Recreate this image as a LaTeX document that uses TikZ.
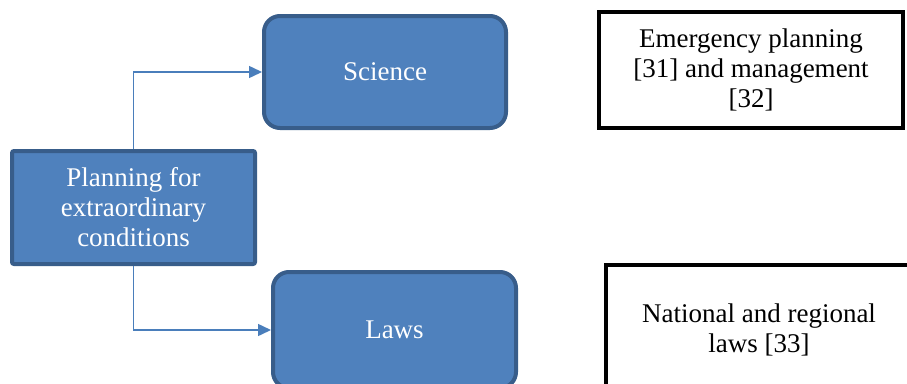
\documentclass[tikz,border=0pt]{standalone}
\usepackage{fontspec}
\setmainfont{Liberation Serif}
\usetikzlibrary{arrows.meta}

\definecolor{boxfill}{RGB}{79,129,189}
\definecolor{boxline}{RGB}{56,93,138}
\definecolor{linkcol}{RGB}{74,126,187}

\tikzset{
	bluebox/.style={draw=boxline, line width=4pt, fill=boxfill, text=white, align=center, inner sep=0pt},
	refbox/.style={draw=black, line width=4pt, fill=white, align=center, inner sep=0pt},
	link/.style={draw=linkcol, line width=1.5pt, -{Triangle[length=13pt,width=12pt]}}
}

\begin{document}
\begin{tikzpicture}[x=1pt, y=-1pt, font=\fontsize{27}{30}\selectfont]
			\useasboundingbox (0,0) rectangle (907,383);
			\clip (0,0) rectangle (907,383);

			\node[bluebox, rounded corners=2pt, minimum width=243pt, minimum height=113pt] (plan) at (133.5,207.5) {Planning for\\extraordinary\\conditions};
			\node[bluebox, rounded corners=16pt, minimum width=242pt, minimum height=112pt] (sci) at (385,72) {Science};
			\node[bluebox, rounded corners=16pt, minimum width=243pt, minimum height=116pt] (laws) at (394.5,330) {Laws};

			\node[refbox, minimum width=304pt, minimum height=116pt] (emerg) at (751,70) {Emergency planning\\{}[31] and management\\{}[32]};
			\node[refbox, minimum width=306pt, minimum height=130pt] (natl) at (759,330) {National and regional\\laws [33]};

			\draw[link] (plan.north) |- (sci.west);
			\draw[link] (plan.south) |- (laws.west);
		\end{tikzpicture}
\end{document}
